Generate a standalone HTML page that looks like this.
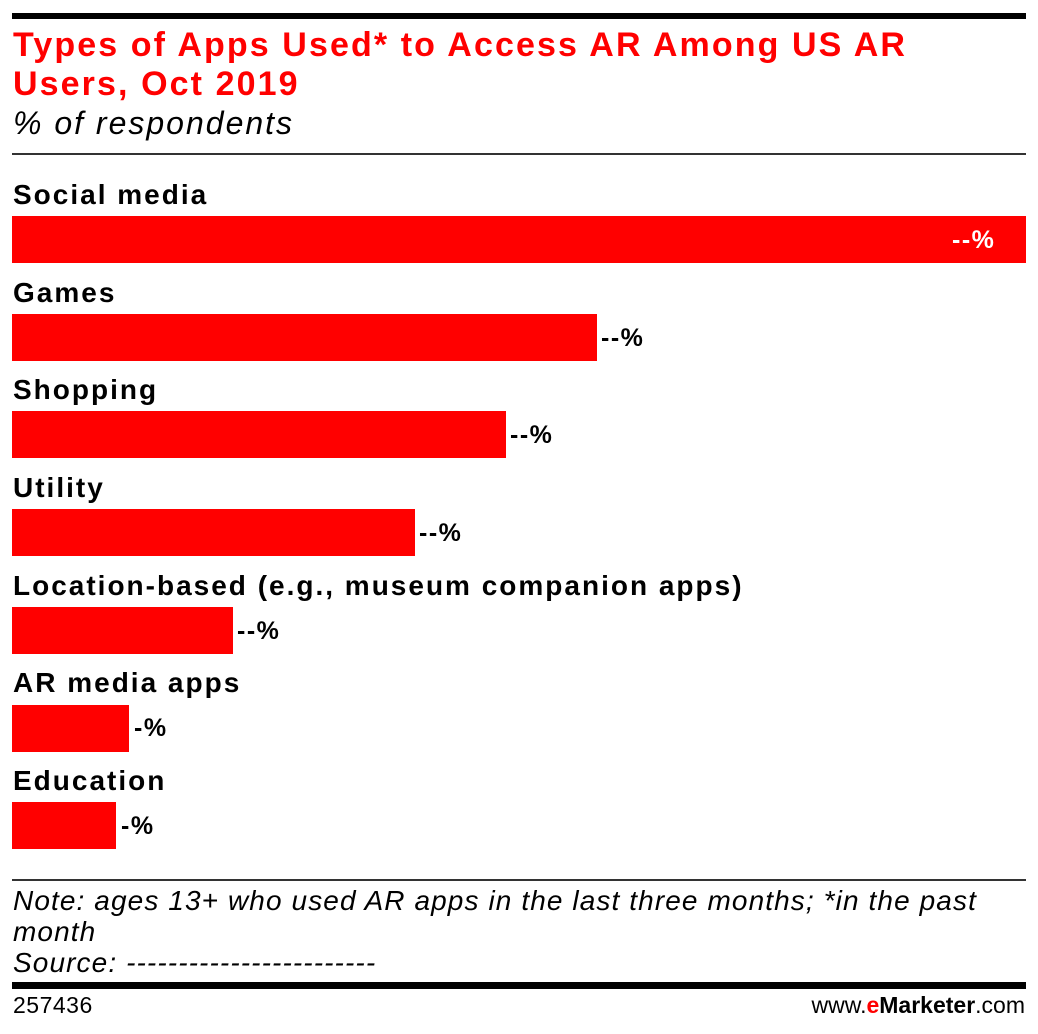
<!DOCTYPE html><html><head><style>
body{margin:0;width:1038px;height:1034px;background:#fff;position:relative;font-family:"Liberation Sans",sans-serif;overflow:hidden}
div{position:absolute}
.l{left:13px;font-weight:bold;font-size:28px;color:#000;white-space:nowrap;line-height:1;letter-spacing:2px}
.b{left:12px;background:#f00;height:47px}
.v{font-weight:bold;font-size:25px;line-height:1;letter-spacing:1.5px}
</style></head><body>
<div style="left:12px;top:13px;width:1014px;height:6px;background:#000"></div>
<div style="left:13px;top:26px;font-size:34px;font-weight:bold;color:#f00;line-height:39px;letter-spacing:2.1px;white-space:nowrap">Types of Apps Used* to Access AR Among US AR<br>Users, Oct 2019</div>
<div style="left:13px;top:107px;font-size:32px;font-style:italic;line-height:1;letter-spacing:2px">% of respondents</div>
<div style="left:12px;top:153px;width:1014px;height:2px;background:#333"></div>

<div class="l" style="top:181px">Social media</div>
<div class="b" style="top:216px;width:1014px"></div>
<div class="v" style="top:228px;left:952px;color:#fff">--%</div>

<div class="l" style="top:279px">Games</div>
<div class="b" style="top:314px;width:585px"></div>
<div class="v" style="top:326px;left:601px">--%</div>

<div class="l" style="top:376px">Shopping</div>
<div class="b" style="top:411px;width:494px"></div>
<div class="v" style="top:423px;left:510px">--%</div>

<div class="l" style="top:474px">Utility</div>
<div class="b" style="top:509px;width:403px"></div>
<div class="v" style="top:521px;left:419px">--%</div>

<div class="l" style="top:572px">Location-based (e.g., museum companion apps)</div>
<div class="b" style="top:607px;width:221px"></div>
<div class="v" style="top:619px;left:237px">--%</div>

<div class="l" style="top:669px">AR media apps</div>
<div class="b" style="top:705px;width:117px"></div>
<div class="v" style="top:716px;left:134px">-%</div>

<div class="l" style="top:767px">Education</div>
<div class="b" style="top:802px;width:104px"></div>
<div class="v" style="top:814px;left:121px">-%</div>

<div style="left:12px;top:879px;width:1014px;height:2px;background:#333"></div>
<div style="left:13px;top:885px;font-size:28px;font-style:italic;line-height:31px;letter-spacing:1.1px;white-space:nowrap">Note: ages 13+ who used AR apps in the last three months; *in the past<br>month<br>Source: ------------------------</div>
<div style="left:12px;top:982px;width:1014px;height:7px;background:#000"></div>
<div style="left:13px;top:994px;font-size:23px;line-height:1;letter-spacing:0.5px">257436</div>
<div style="right:13px;top:994px;font-size:23px;line-height:1">www.<b style="color:#f00">e</b><b>Marketer</b>.com</div>
</body></html>
